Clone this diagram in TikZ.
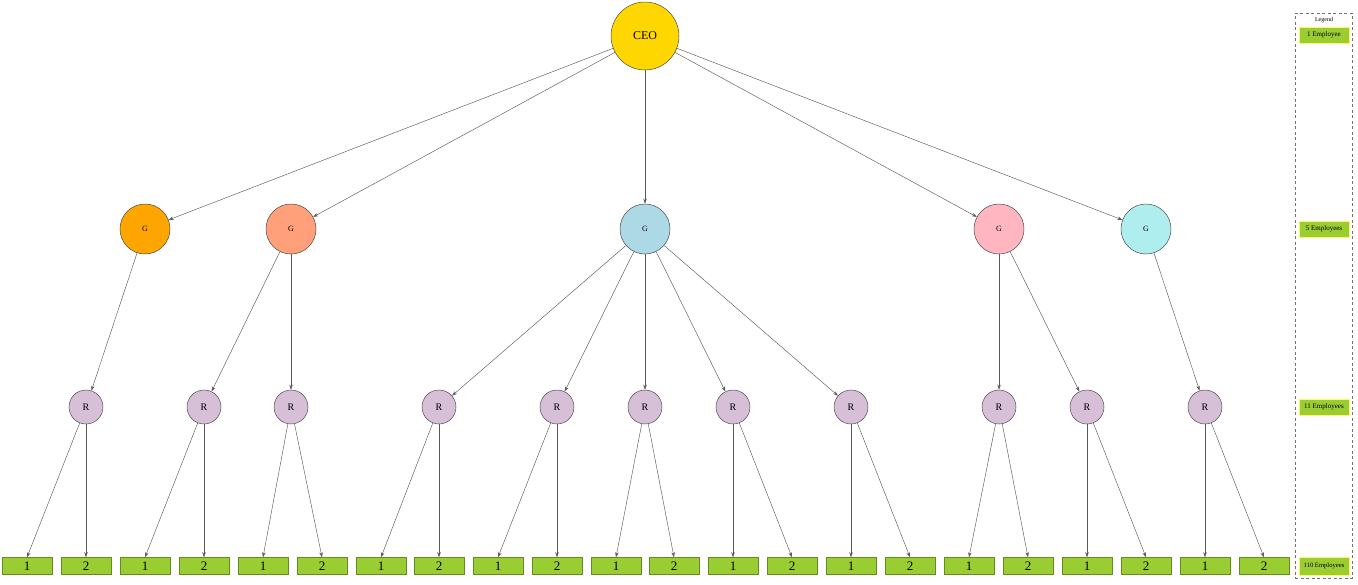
\documentclass[tikz,border=0pt]{standalone}
\usepackage{fontspec}
\setmainfont{Liberation Serif}
\usetikzlibrary{arrows.meta}
\definecolor{ceoc}{RGB}{255,215,0}
\definecolor{g1}{RGB}{255,165,0}
\definecolor{g2}{RGB}{255,160,122}
\definecolor{g3}{RGB}{173,216,230}
\definecolor{g4}{RGB}{255,182,193}
\definecolor{g5}{RGB}{175,238,238}
\definecolor{rc}{RGB}{216,191,216}
\definecolor{leaf}{RGB}{154,205,50}
\definecolor{leafb}{RGB}{100,140,30}
\tikzset{
  circ/.style={circle,draw=black!70,line width=0.5pt,inner sep=0pt},
  ceo/.style={circ,fill=ceoc,minimum size=68pt,font=\fontsize{12}{12}\selectfont},
  gnode/.style={circ,minimum size=50pt,font=\fontsize{8}{8}\selectfont},
  rnode/.style={circ,fill=rc,minimum size=34pt,font=\fontsize{10}{10}\selectfont},
  leafbox/.style={rectangle,draw=leafb,line width=0.5pt,fill=leaf,minimum width=50pt,minimum height=17pt,inner sep=0pt,font=\fontsize{13}{13}\selectfont},
  legbox/.style={rectangle,draw=yellow!60,line width=0.8pt,fill=leaf,minimum width=50pt,minimum height=16pt,inner sep=0pt,font=\fontsize{7}{7}\selectfont},
  edge/.style={draw=black!65,line width=0.45pt,-{Stealth[length=5pt,width=3.5pt]}}
}
\begin{document}
\begin{tikzpicture}[x=1pt,y=-1pt]
\useasboundingbox (0,0) rectangle (1358,584);
\node[ceo] (ceo) at (645,36) {CEO};
\node[gnode,fill=g1] (ga) at (145,229) {G};
\node[gnode,fill=g2] (gb) at (291,229) {G};
\node[gnode,fill=g3] (gc) at (645,229) {G};
\node[gnode,fill=g4] (gd) at (999,229) {G};
\node[gnode,fill=g5] (ge) at (1146,229) {G};
\foreach \g in {ga,gb,gc,gd,ge} \draw[edge] (ceo) -- (\g);
\foreach \i/\x in {1/86,2/204,3/291,4/439,5/557,6/645,7/733,8/851,9/999,10/1087,11/1205}{
  \node[rnode] (r\i) at (\x,407) {R};
}
\foreach \g/\r in {ga/1,gb/2,gb/3,gc/4,gc/5,gc/6,gc/7,gc/8,gd/9,gd/10,ge/11}
  \draw[edge] (\g) -- (r\r);
\foreach \i/\xa/\xb in {1/27/86,2/145/204,3/263/322,4/381/439,5/498/557,6/616/674,7/733/792,8/851/910,9/969/1028,10/1087/1146,11/1205/1264}{
  \node[leafbox] (la\i) at (\xa,566) {1};
  \node[leafbox] (lb\i) at (\xb,566) {2};
  \draw[edge] (r\i) -- (la\i.north);
  \draw[edge] (r\i) -- (lb\i.north);
}
\node[draw=black!55,dash pattern=on 3pt off 2.5pt,line width=0.6pt,minimum width=57pt,minimum height=565pt,inner sep=0pt] (legend) at (1323.5,295.5) {};
\node[font=\fontsize{6}{6}\selectfont,anchor=north] (legt) at (1324,14) {Legend};
\node[legbox] (l1) at (1324,35) {1 Employee};
\node[legbox] (l2) at (1324,229) {5 Employees};
\node[legbox] (l3) at (1324,407) {11 Employees};
\node[legbox,minimum height=18pt,font=\fontsize{6.6}{6.6}\selectfont] (l4) at (1324,566) {110 Employees};
\end{tikzpicture}
\end{document}
